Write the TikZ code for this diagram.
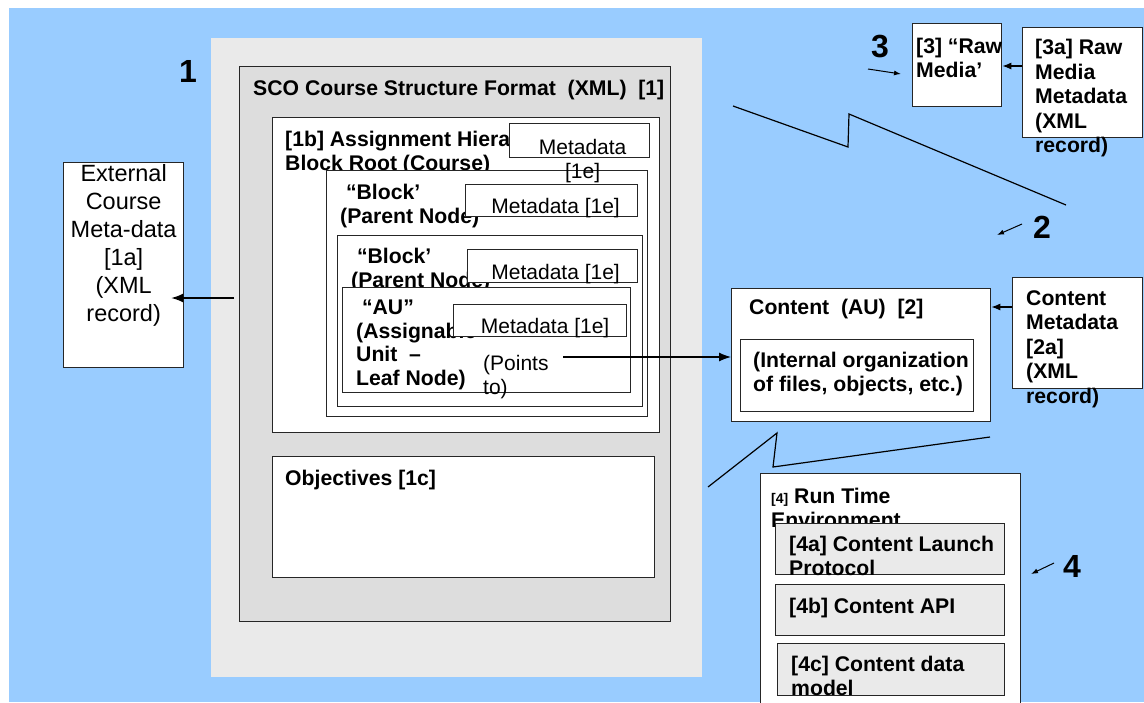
\documentclass[tikz,border=0pt]{standalone}
\usepackage{fontspec}
\setmainfont{Liberation Sans}
\usetikzlibrary{positioning,arrows.meta}

\definecolor{skyblue}{HTML}{99CCFF}
\definecolor{panelgray}{HTML}{EAEAEA}
\definecolor{boxgray}{HTML}{DDDDDD}

\begin{document}
\begin{tikzpicture}[x=1pt,y=-1pt,
   box/.style={draw=black!85,line width=1.3pt,fill=white,inner sep=0pt,anchor=north west},
   bt/.style={font=\fontsize{21.2}{23.5}\selectfont\bfseries,align=left,inner sep=0pt},
   nt/.style={font=\fontsize{21}{24}\selectfont,align=center,inner sep=0pt},
   num/.style={font=\fontsize{32}{36}\selectfont\bfseries,inner sep=0pt,anchor=base west},
   arr/.style={-{Latex[length=12pt,width=9pt]},line width=1.2pt},
   arrm/.style={-{Latex[length=9pt,width=7pt]},line width=1.2pt},
   arrs/.style={-{Latex[length=7pt,width=5pt]},line width=1pt}]
   \useasboundingbox (0,0) rectangle (1144,702);
   \fill[skyblue] (9,8) rectangle (1144,702);
   \fill[panelgray] (211,38) rectangle (702,677);

   \node[box,fill=boxgray,minimum width=431pt,minimum height=555pt] (sco) at (239,66) {};
   \node[bt,below right=14pt and 14pt of sco.north west] (scot) {SCO Course Structure Format\ \ (XML)\ \ [1]};
   \node[box,minimum width=387pt,minimum height=315pt] (hier) at (272,117) {};
   \node[bt,below right=14pt and 13pt of hier.north west] (hiert) {[1b] Assignment Hiera\\Block Root (Course)};
   \node[box,minimum width=321pt,minimum height=246pt] (blocka) at (326,170) {};
   \node[bt,below right=14pt and 14pt of blocka.north west] (blockat) {\ “Block’\\(Parent Node)};
   \node[box,minimum width=305pt,minimum height=171pt] (blockb) at (337,235) {};
   \node[bt,below right=13pt and 14pt of blockb.north west] (blockbt) {\ “Block’\\(Parent Node)};
   \node[box,minimum width=288pt,minimum height=105pt] (au) at (342,287) {};
   \node[bt,below right=13pt and 14pt of au.north west] (aut) {\ “AU”\\(Assignable\\Unit\ \ –\\Leaf Node)};

   \node[box,minimum width=140pt,minimum height=34pt] (metatop) at (509,123) {};
   \node[nt,below=16pt of metatop.north,xshift=3pt] (metatopt) {Metadata\\{}[1e]};
   \node[box,minimum width=172pt,minimum height=32pt] (metaa) at (465,184) {};
   \node[nt,below=14pt of metaa.north,xshift=4pt] (metaat) {Metadata [1e]};
   \node[box,minimum width=170pt,minimum height=33pt] (metab) at (467,249) {};
   \node[nt,below=15pt of metab.north,xshift=3pt] (metabt) {Metadata [1e]};
   \node[box,minimum width=173pt,minimum height=32pt] (metaau) at (453,304) {};
   \node[nt,below=14pt of metaau.north,xshift=5pt] (metaaut) {Metadata [1e]};
   \node[nt,align=left,below right=68pt and 141pt of au.north west] (points) {(Points\\to)};

   \node[box,minimum width=382pt,minimum height=121pt] (obj) at (272,456) {};
   \node[bt,below right=14pt and 13pt of obj.north west] (objt) {Objectives [1c]};

   \node[box,minimum width=120pt,minimum height=205pt] (ext) at (63,162) {};
   \node[nt,font=\fontsize{23.5}{28}\selectfont,below=2pt of ext.north] (extt) {External\\Course\\Meta-data\\{}[1a]\\(XML\\record)};
   \coordinate (extsrc) at (234,298);
   \draw[arr,shorten >=-13pt] (extsrc) -- (extsrc -| ext.east);

   \draw[line width=1.2pt] (733,106) -- (848,147) -- (849,114) -- (1066,205);
   \draw[line width=1.2pt] (708,487) -- (777,433) -- (773,467) -- (990,437);

   \node[box,minimum width=259pt,minimum height=133pt] (content) at (731,288) {};
   \node[bt,below right=11pt and 18pt of content.north west] (contentt) {Content\ \ (AU)\ \ [2]};
   \node[box,minimum width=233pt,minimum height=72pt] (inner) at (740,339) {};
   \node[bt,below right=13pt and 13pt of inner.north west] (innert) {(Internal organization\\of files, objects, etc.)};
   \coordinate (ptr) at (563,357);
   \draw[arr] (ptr) -- (ptr -| content.west);

   \node[box,minimum width=130pt,minimum height=111pt] (cmeta) at (1012,277) {};
   \node[bt,font=\fontsize{21.2}{24.5}\selectfont\bfseries,below right=13pt and 14pt of cmeta.north west] (cmetat) {Content\\Metadata\\{}[2a]\\(XML\\record)};
   \coordinate (cmsrc) at (1012,307);
   \draw[arrm] (cmsrc) -- (cmsrc -| content.east);

   \node[box,minimum width=89pt,minimum height=83pt] (raw) at (912,23) {};
   \node[bt,below right=15pt and 4pt of raw.north west] (rawt) {[3] “Raw\\Media’};
   \node[box,minimum width=120pt,minimum height=110pt] (rawmeta) at (1022,27) {};
   \node[bt,font=\fontsize{21.2}{24.5}\selectfont\bfseries,below right=12pt and 13pt of rawmeta.north west] (rawmetat) {[3a] Raw\\Media\\Metadata\\(XML\\record)};
   \coordinate (rawsrc) at (1022,66);
   \draw[arrm] (rawsrc) -- (rawsrc -| raw.east);

   \node[box,minimum width=260pt,minimum height=240pt] (rte) at (760,473) {};
   \node[bt,below right=15pt and 11pt of rte.north west] (rtet) {{\fontsize{14}{16}\selectfont [4]} Run Time\\Environment};
   \node[box,fill=panelgray,minimum width=229pt,minimum height=51pt] (cla) at (775,523) {};
   \node[bt,below right=13pt and 14pt of cla.north west] (clat) {[4a] Content Launch\\Protocol};
   \node[box,fill=panelgray,minimum width=229pt,minimum height=51pt] (capi) at (775,584) {};
   \node[bt,below right=14pt and 14pt of capi.north west] (capit) {[4b] Content API};
   \node[box,fill=panelgray,minimum width=227pt,minimum height=52pt] (cdm) at (777,643) {};
   \node[bt,below right=13pt and 14pt of cdm.north west] (cdmt) {[4c] Content data\\model};

   \node[num] (n1) at (179,82) {1};
   \node[num] (n2) at (1033,238) {2};
   \node[num] (n3) at (871,57) {3};
   \node[num] (n4) at (1063,577) {4};
   \coordinate (a3) at (868,69);
   \coordinate (b3) at (901,74);
   \coordinate (a2) at (1022,224);
   \coordinate (b2) at (997,235);
   \coordinate (a4) at (1054,563);
   \coordinate (b4) at (1031,574);
   \draw[arrs] (a3) -- (b3);
   \draw[arrs] (a2) -- (b2);
   \draw[arrs] (a4) -- (b4);
\end{tikzpicture}
\end{document}
